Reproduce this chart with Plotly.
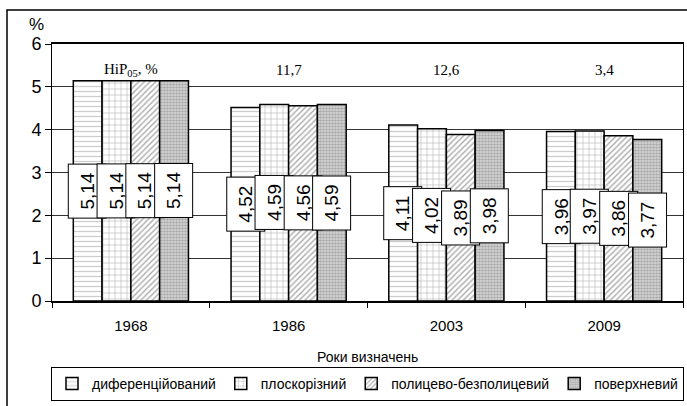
import plotly.graph_objects as go

years = ["1968", "1986", "2003", "2009"]
series_names = ["диференційований", "плоскорізний", "полицево-безполицевий", "поверхневий"]
v_dif = [5.14, 4.52, 4.11, 3.96]
v_plo = [5.14, 4.59, 4.02, 3.97]
v_pol = [5.14, 4.56, 3.89, 3.86]
v_pov = [5.14, 4.59, 3.98, 3.77]
nir_labels = ["HiP<sub>05</sub>, %", "11,7", "12,6", "3,4"]
y_ticks = [0, 1, 2, 3, 4, 5, 6]

series_values = [v_dif, v_plo, v_pol, v_pov]
patterns = [
    dict(shape="-", fgcolor="#9a9a9a", bgcolor="white", size=5, solidity=0.25, fillmode="overlay"),
    dict(shape="+", fgcolor="#444444", bgcolor="white", size=6, solidity=0.15, fillmode="overlay"),
    dict(shape="/", fgcolor="#555555", bgcolor="white", size=4, solidity=0.35, fillmode="overlay"),
    dict(shape=".", fgcolor="#777777", bgcolor="#dddddd", size=3, solidity=0.6, fillmode="overlay"),
]

W, H = 687, 406
ML, MR, MT, MB = 52, 4, 44, 105
plot_w = W - ML - MR
plot_h = H - MT - MB
bargap = 0.27
cat_px = plot_w / len(years)
bar_px = cat_px * (1 - bargap) / len(series_values)

fig = go.Figure()
for name, vals, pat in zip(series_names, series_values, patterns):
    fig.add_trace(go.Bar(
        x=years, y=vals, name=name,
        marker=dict(color="white", pattern=pat, line=dict(color="black", width=1.5)),
    ))

annotations = []
for j, vals in enumerate(series_values):
    for i, v in enumerate(vals):
        annotations.append(dict(
            x=i, y=v / 2, xref="x", yref="y",
            xshift=(j - 1.5) * bar_px,
            text=f"{v:.2f}".replace(".", ","),
            textangle=-90, showarrow=False,
            font=dict(family="Arial, Liberation Sans", size=19, color="black"),
            bgcolor="white", bordercolor="black", borderwidth=1, borderpad=8,
        ))

for i, lab in enumerate(nir_labels):
    annotations.append(dict(
        x=i, y=5.4, xref="x", yref="y", text=lab, showarrow=False,
        font=dict(family="Times New Roman, Liberation Serif", size=15, color="black"),
    ))

annotations.append(dict(
    x=-0.01, y=1.03, xref="paper", yref="paper", text="%", showarrow=False,
    xanchor="right", yanchor="bottom",
    font=dict(family="Arial, Liberation Sans", size=17, color="black"),
))
annotations.append(dict(
    x=0.5, y=-(357 - (H - MB)) / plot_h,
    xref="paper", yref="paper", text="Роки визначень", showarrow=False,
    yanchor="middle",
    font=dict(family="Arial, Liberation Sans", size=14, color="black"),
))

fig.update_layout(
    width=W, height=H,
    margin=dict(l=ML, r=MR, t=MT, b=MB, autoexpand=False),
    paper_bgcolor="white", plot_bgcolor="white",
    barmode="group", bargap=bargap, bargroupgap=0,
    showlegend=True,
    legend=dict(
        orientation="h", x=0.5, xanchor="center",
        y=-(367 - (H - MB)) / plot_h, yanchor="top",
        bordercolor="black", borderwidth=1, bgcolor="white",
        font=dict(family="Arial, Liberation Sans", size=14, color="black"),
        itemwidth=30, tracegroupgap=0,
    ),
    annotations=annotations,
    xaxis=dict(
        type="category", range=[-0.5, 3.5], tickson="boundaries", ticks="outside", ticklen=5,
        tickcolor="black", showline=True, linecolor="black", linewidth=1.5,
        mirror=True, showgrid=False, automargin=False, ticklabelstandoff=10,
        tickfont=dict(family="Arial, Liberation Sans", size=15, color="black"),
    ),
    yaxis=dict(
        range=[0, 6], tickvals=y_ticks, ticks="outside", ticklen=6,
        tickcolor="black", showline=True, linecolor="black", linewidth=1,
        mirror=True, showgrid=True, gridcolor="#333333", gridwidth=1,
        zeroline=False, automargin=False,
        tickfont=dict(family="Arial, Liberation Sans", size=18, color="black"),
    ),
    shapes=[dict(
        type="rect", xref="paper", yref="paper",
        x0=(7 - ML) / plot_w, x1=(W + 5 - ML) / plot_w,
        y0=-(H + 5 - (H - MB)) / plot_h, y1=(H - MB - 10) / plot_h,
        line=dict(color="black", width=1.5), fillcolor="rgba(0,0,0,0)", layer="below",
    )],
)

fig.write_html("out.html", config={"displayModeBar": False},
               post_script="document.body.style.margin='0';")
